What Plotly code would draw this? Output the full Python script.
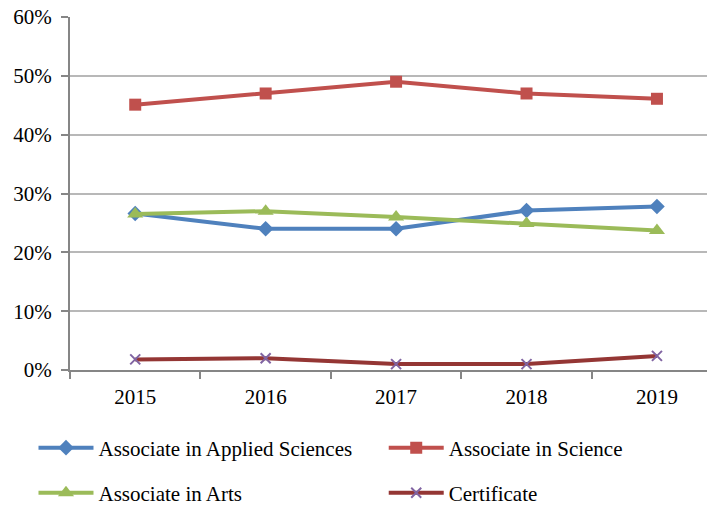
import plotly.graph_objects as go

years = ["2015", "2016", "2017", "2018", "2019"]
applied_sciences = [26.6, 24.0, 24.0, 27.1, 27.8]
science = [45.1, 47.0, 49.0, 47.0, 46.1]
arts = [26.5, 27.0, 26.0, 24.9, 23.7]
certificate = [1.8, 2.0, 1.0, 1.0, 2.4]
y_ticks = [0, 10, 20, 30, 40, 50, 60]
y_tick_labels = ["0%", "10%", "20%", "30%", "40%", "50%", "60%"]

FONT = "Liberation Serif"
AXIS = "#868686"
FS = 21

fig = go.Figure()
fig.add_trace(go.Scatter(
    x=years, y=applied_sciences, name="Associate in Applied Sciences",
    mode="lines+markers", line=dict(color="#4F81BD", width=4),
    marker=dict(symbol="diamond", size=12, color="#4F81BD"), legend="legend"))
fig.add_trace(go.Scatter(
    x=years, y=science, name="Associate in Science",
    mode="lines+markers", line=dict(color="#C0504D", width=4),
    marker=dict(symbol="square", size=12, color="#C0504D"), legend="legend2"))
fig.add_trace(go.Scatter(
    x=years, y=arts, name="Associate in Arts",
    mode="lines+markers", line=dict(color="#9BBB59", width=4),
    marker=dict(symbol="triangle-up", size=14, color="#9BBB59"), legend="legend3"))
fig.add_trace(go.Scatter(
    x=years, y=certificate, name="Certificate",
    mode="lines+markers", line=dict(color="#943634", width=4),
    marker=dict(symbol="x-thin", size=10, color="#8064A2",
                line=dict(color="#8064A2", width=2)), legend="legend4"))

legend_common = dict(orientation="h", xanchor="left", yanchor="middle",
                     font=dict(family=FONT, size=FS, color="#000000"),
                     bgcolor="rgba(0,0,0,0)", itemwidth=55)

col1, col2 = -0.0566, 0.4864
row1, row2 = -0.221, -0.3485

fig.update_layout(
    width=715, height=506,
    margin=dict(l=62, r=8, t=9, b=144, autoexpand=False),
    paper_bgcolor="white", plot_bgcolor="white",
    font=dict(family=FONT, size=FS, color="#000000"),
    showlegend=True,
    legend=dict(x=col1, y=row1, **legend_common),
    legend2=dict(x=col2, y=row1, **legend_common),
    legend3=dict(x=col1, y=row2, **legend_common),
    legend4=dict(x=col2, y=row2, **legend_common),
    xaxis=dict(type="category", range=[-0.5, 4.445], tickson="boundaries",
               ticks="outside", ticklen=7, tickwidth=1.5, tickcolor=AXIS,
               showline=True, linecolor=AXIS, linewidth=2, showgrid=False,
               ticklabelstandoff=7,
               tickfont=dict(family=FONT, size=FS)),
    yaxis=dict(range=[0, 60], tickmode="array", tickvals=y_ticks,
               ticktext=y_tick_labels, ticklabeloverflow="allow",
               ticks="outside", ticklen=7, tickwidth=1.5, tickcolor=AXIS,
               showline=True, linecolor=AXIS, linewidth=2,
               showgrid=True, gridcolor="#B8B8B8", gridwidth=1.5,
               zeroline=False, ticklabelstandoff=5,
               tickfont=dict(family=FONT, size=FS)),
)

fig.write_html("out.html")
